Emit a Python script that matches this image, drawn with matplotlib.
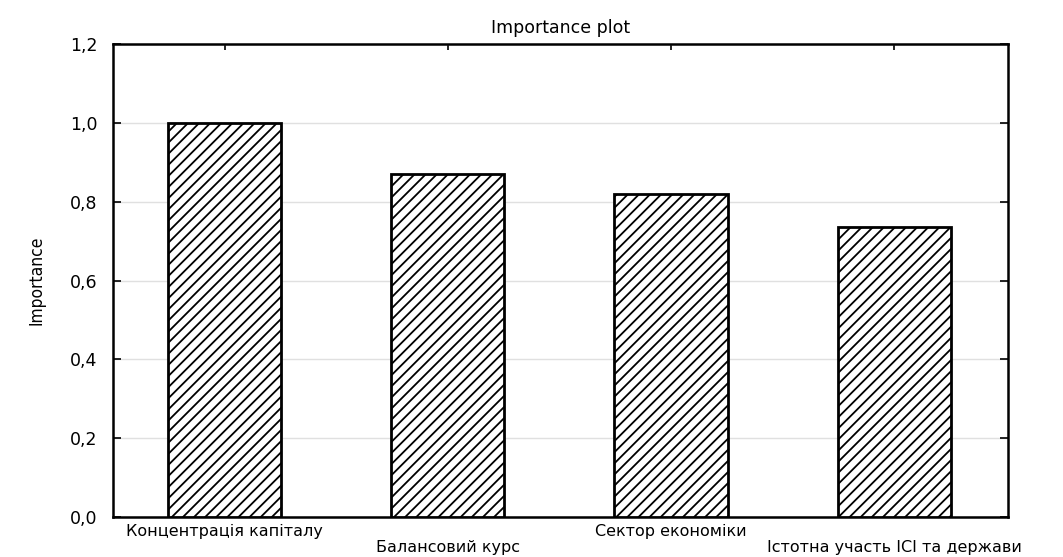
import matplotlib
matplotlib.use("Agg")
import matplotlib.pyplot as plt
from matplotlib.ticker import FuncFormatter

categories = ["Концентрація капіталу", "Балансовий курс",
              "Сектор економіки", "Істотна участь ІСІ та держави"]
importance = [1.0, 0.87, 0.82, 0.737]
y_ticks = [0.0, 0.2, 0.4, 0.6, 0.8, 1.0, 1.2]

plt.rcParams['font.family'] = ['DejaVu Sans']
plt.rcParams['hatch.linewidth'] = 1.3

fig = plt.figure(figsize=(10.63, 5.57), dpi=100)
ax = fig.add_axes([0.1063, 0.0718, 0.8420, 0.8492])

pos = list(range(len(categories)))
ax.bar(pos, importance, width=0.507, color='white', edgecolor='black',
       linewidth=2, hatch='///', zorder=3)

ax.set_xlim(-0.5, 3.51)
ax.set_ylim(0, 1.2)
ax.set_yticks(y_ticks)
ax.yaxis.set_major_formatter(FuncFormatter(lambda v, p: f"{v:.1f}".replace('.', ',')))

# alternate rows for the category labels
labels = [c if i % 2 == 0 else "\n" + c for i, c in enumerate(categories)]
ax.set_xticks(pos)
ax.set_xticklabels(labels, fontsize=11.5, linespacing=1.05)

ax.tick_params(axis='y', direction='in', length=6, width=1.2,
               left=True, right=True, labelsize=12.5, pad=11)
ax.tick_params(axis='x', direction='in', length=4, width=1.2,
               bottom=True, top=True, pad=5)

ax.grid(axis='y', color='#e0e0e0', linewidth=1, zorder=0)
ax.set_axisbelow(True)
for s in ax.spines.values():
    s.set_linewidth(1.8)

ax.set_title("Importance plot", fontsize=12.5, pad=8)
ax.set_ylabel("Importance", fontsize=12.5, fontstretch='condensed', labelpad=18)

fig.savefig("out.png", dpi=100)
